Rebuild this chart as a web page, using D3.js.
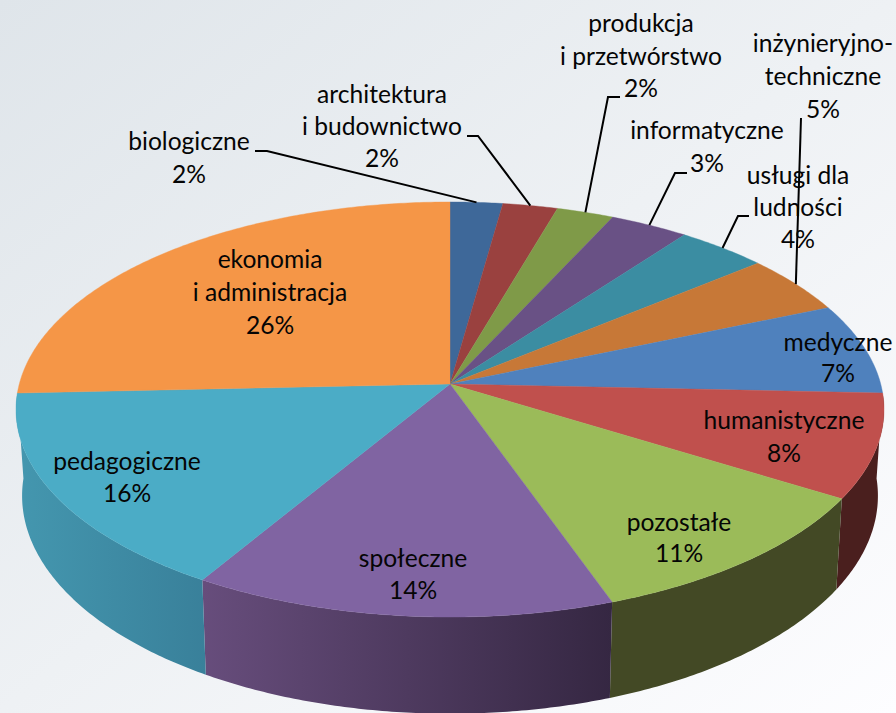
<!DOCTYPE html>
<html>
<head>
<meta charset="utf-8">
<script src="https://cdn.jsdelivr.net/npm/d3@7"></script>
<style>
html, body { margin: 0; padding: 0; background: #fff; }
svg { display: block; }
text { font-family: Lato, "Open Sans", sans-serif; font-size: 24.6px; fill: #050505; text-anchor: middle; }
</style>
</head>
<body>
<svg></svg>
<script>
const width = 896;
const height = 713;

// shares, clockwise from 12 o'clock
const names = ['biologiczne', 'architektura', 'produkcja', 'informatyczne', 'uslugi', 'inzynieryjno',
    'medyczne', 'humanistyczne', 'pozostale', 'spoleczne', 'pedagogiczne', 'ekonomia'];
const values = [2.2, 2.3, 2.4, 3.3, 3.8, 4.6, 7.1, 8.1, 10.8, 14.0, 15.7, 25.7];
const labelLines = [
    ['biologiczne'],
    ['architektura', 'i budownictwo'],
    ['produkcja', 'i przetwórstwo'],
    ['informatyczne'],
    ['usługi dla', 'ludności'],
    ['inżynieryjno-', 'techniczne'],
    ['medyczne'],
    ['humanistyczne'],
    ['pozostałe'],
    ['społeczne'],
    ['pedagogiczne'],
    ['ekonomia', 'i administracja']
];

// colours
const topColors = ['#3e6899', '#9a413f', '#7f9a48', '#695185', '#3b8da2', '#c77837',
    '#4f81bd', '#c0504d', '#9bbb59', '#8064a2', '#4bacc6', '#f59647'];
const wallLeft = ['#000', '#000', '#000', '#000', '#000', '#000',
    '#4a1f1e', '#4a1f1e', '#434925', '#674d7c', '#4497af', '#f59647'];
const wallRight = ['#000', '#000', '#000', '#000', '#000', '#000',
    '#4a1f1e', '#4a1f1e', '#434925', '#352742', '#39809a', '#f59647'];

// label layout: centre x, baseline of first line, line step
const labelX = [189, 382, 641, 707, 798, 823, 838, 784, 679, 413, 127, 270];
const labelY = [150, 103, 32, 139, 184, 52, 351, 429, 531, 567, 470, 268];
const labelStep = [33, 32, 32.5, 33, 32, 33, 31, 33, 31, 32, 32, 33];

// leader start: text-side end and elbow x, elbow y
const leaderFrom = [255, 467, 620, 687, 749, 801];
const leaderElbow = [267, 478, 608, 675, 738, 801];
const leaderY = [151, 136, 97, 173, 216, 118];

// perspective disc
const apex = [450, 384];
const radiusX = 430.7;
const radiusY = 204.4;
const persp = 0.1229;

function rim(a) {
    const c = Math.cos(a), s = Math.sin(a), d = 1 + persp * c;
    return [apex[0] + radiusX * s / d, apex[1] - radiusY * c / d];
}

// lower edge of the side wall
function lowerRim(a) {
    const p = rim(a);
    return [apex[0] + 0.986 * (p[0] - apex[0]), 469 + 1.05 * (p[1] - apex[1])];
}

function arcAngles(a0, a1) {
    const n = Math.max(2, Math.ceil((a1 - a0) / 0.01));
    return d3.range(n + 1).map(i => a0 + (a1 - a0) * i / n);
}

const svg = d3.select('svg').attr('width', width).attr('height', height);
const defs = svg.append('defs');

const bg = defs.append('linearGradient').attr('id', 'bg')
    .attr('x1', 0).attr('y1', 0).attr('x2', 1).attr('y2', 1);
bg.append('stop').attr('offset', 0).attr('stop-color', '#dfe5ea');
bg.append('stop').attr('offset', 0.5).attr('stop-color', '#eef1f4');
bg.append('stop').attr('offset', 1).attr('stop-color', '#fdfdff');
svg.append('rect').attr('width', width).attr('height', height).attr('fill', 'url(#bg)');

const slices = d3.pie().sort(null).value(d => d)(values);
const line = d3.line();

// walls, only the front half of the disc shows them
const wallG = svg.append('g');
slices.forEach((d, i) => {
    const a0 = Math.max(d.startAngle, Math.PI / 2);
    const a1 = Math.min(d.endAngle, Math.PI * 1.5);
    if (a1 - a0 < 0.1) return;
    const id = 'wall' + i;
    const g = defs.append('linearGradient').attr('id', id);
    g.append('stop').attr('offset', 0).attr('stop-color', wallLeft[i]);
    g.append('stop').attr('offset', 1).attr('stop-color', wallRight[i]);
    const angles = arcAngles(a0, a1);
    const pts = angles.map(rim).concat(angles.slice().reverse().map(lowerRim));
    wallG.append('path').attr('d', line(pts) + 'Z').attr('fill', 'url(#' + id + ')');
});

// top face
svg.append('g').selectAll('path')
    .data(slices)
    .enter().append('path')
    .attr('d', d => line([apex].concat(arcAngles(d.startAngle, d.endAngle).map(rim))) + 'Z')
    .attr('fill', (d, i) => topColors[i])
    .attr('stroke', (d, i) => topColors[i])
    .attr('stroke-width', 0.4);

// leader lines for the six small slices
leaderFrom.forEach((x, i) => {
    const d = slices[i];
    const end = rim((d.startAngle + d.endAngle) / 2);
    svg.append('path')
        .attr('d', line([[x, leaderY[i]], [leaderElbow[i], leaderY[i]], end]))
        .attr('fill', 'none').attr('stroke', '#000').attr('stroke-width', 2);
});

// labels
const labels = svg.append('g').selectAll('text')
    .data(names)
    .enter().append('text');
labels.each(function(d, i) {
    const rows = labelLines[i].concat([Math.round(values[i]) + '%']);
    d3.select(this).selectAll('tspan').data(rows).enter().append('tspan')
        .attr('x', labelX[i])
        .attr('y', (r, j) => labelY[i] + j * labelStep[i])
        .text(r => r);
});
</script>
</body>
</html>
